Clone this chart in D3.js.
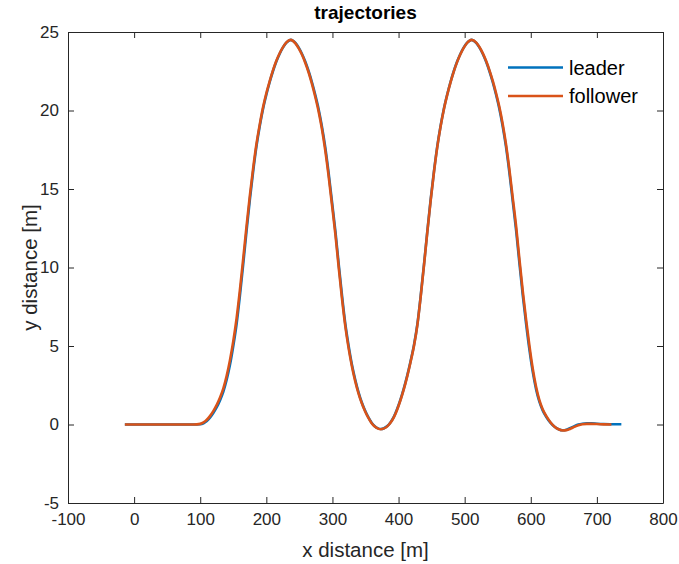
<!DOCTYPE html>
<html>
<head>
<meta charset="utf-8">
<script src="https://cdn.jsdelivr.net/npm/d3@7"></script>
<style>
  body { margin: 0; background: #fff; }
  svg { display: block; }
</style>
</head>
<body>
<div id="chart"></div>
<script>
// leader trajectory (x distance, y distance in m)
const leaderX = [-14, 0, 50, 90, 100, 105, 110, 115, 120, 125, 130, 135, 140, 145, 150, 155, 160, 165, 170, 175,
    180, 185, 190, 195, 200, 205, 210, 215, 220, 225, 230, 237,
    244, 249, 254, 259, 264, 269, 274, 279, 284, 289, 294, 299, 304.5, 309.5, 314.5, 319.5, 324.5, 329.5, 334.5,
    339.5, 344, 349, 354, 359, 364, 369, 373,
    378, 383, 388, 393, 398, 403, 408, 413, 418, 423.5, 428.5, 433.5, 438.5, 443.5, 448.5, 453.5, 458.5, 463.5,
    468.5, 473.5, 478.5, 483.5, 488.5, 493.5, 498.5, 503.5, 510.5,
    517.5, 522.5, 527.5, 532.5, 537.5, 542.5, 547.5, 552.5, 557.5, 562.5, 567.5, 572.5, 578, 583, 588, 593,
    598, 603, 608, 613, 618, 624, 630, 636, 642, 648, 654, 660, 666, 672, 678, 685, 692, 700, 710, 720, 737];
const leaderY = [0, 0, 0, 0, 0.02, 0.08, 0.22, 0.45, 0.75, 1.1, 1.55, 2.1, 2.85, 3.8, 5.0, 6.4, 8.2, 10.2, 12.3, 14.3,
    16.1, 17.7, 19.0, 20.1, 21.0, 21.8, 22.5, 23.1, 23.6, 24.0, 24.3, 24.5,
    24.3, 24.0, 23.6, 23.1, 22.5, 21.8, 21.0, 20.1, 19.0, 17.7, 16.1, 14.3, 12.3, 10.2, 8.2, 6.4, 5.0, 3.8, 2.85,
    2.05, 1.45, 0.92, 0.48, 0.13, -0.11, -0.25, -0.29,
    -0.24, -0.1, 0.15, 0.5, 1.0, 1.6, 2.3, 3.1, 4.0, 5.1, 6.4, 8.2, 10.2, 12.3, 14.3, 16.1, 17.7, 19.0,
    20.1, 21.0, 21.8, 22.5, 23.1, 23.6, 24.0, 24.3, 24.5,
    24.3, 24.0, 23.6, 23.1, 22.5, 21.8, 21.0, 20.1, 19.0, 17.7, 16.1, 14.3, 12.3, 10.2, 8.2, 6.4,
    4.75, 3.35, 2.25, 1.45, 0.9, 0.45, 0.1, -0.15, -0.3, -0.37, -0.33, -0.22, -0.1, 0.0, 0.05, 0.07, 0.07, 0.05, 0.03, 0.02, 0.02];

// follower trajectory
const followerX = [-14, 0, 50, 90, 100, 105, 110, 115, 120, 125, 130, 135, 140, 145, 150, 155, 160, 165, 170, 175,
    180, 185, 190, 195, 200, 205, 210, 215, 220, 225, 230, 237,
    244, 249, 254, 259, 264, 269, 274, 279, 284, 289, 294, 299, 304.5, 309.5, 314.5, 319.5, 324.5, 329.5, 334.5,
    339.5, 344, 349, 354, 359, 364, 369, 373,
    378, 383, 388, 393, 398, 403, 408, 413, 418, 423.5, 428.5, 433.5, 438.5, 443.5, 448.5, 453.5, 458.5, 463.5,
    468.5, 473.5, 478.5, 483.5, 488.5, 493.5, 498.5, 503.5, 510.5,
    517.5, 522.5, 527.5, 532.5, 537.5, 542.5, 547.5, 552.5, 557.5, 562.5, 567.5, 572.5, 578, 583, 588, 593,
    598, 603, 608, 613, 618, 624, 630, 636, 642, 648, 654, 660, 666, 672, 678, 685, 692, 700, 710, 722];
const followerY = [0, 0, 0, 0, 0.04, 0.13, 0.3, 0.55, 0.87, 1.25, 1.72, 2.3, 3.1, 4.1, 5.3, 6.75, 8.55, 10.55, 12.6, 14.55,
    16.3, 17.85, 19.1, 20.2, 21.1, 21.85, 22.55, 23.15, 23.63, 24.02, 24.32, 24.5,
    24.28, 23.96, 23.55, 23.03, 22.42, 21.7, 20.88, 19.96, 18.85, 17.5, 15.9, 14.1, 12.1, 10.0, 8.0, 6.25, 4.85, 3.7, 2.75,
    1.97, 1.4, 0.88, 0.45, 0.1, -0.13, -0.26, -0.3,
    -0.25, -0.12, 0.12, 0.47, 0.96, 1.56, 2.25, 3.05, 3.95, 5.05, 6.35, 8.15, 10.15, 12.25, 14.25, 16.05, 17.65, 18.96,
    20.07, 20.98, 21.78, 22.48, 23.08, 23.58, 23.99, 24.3, 24.5,
    24.32, 24.03, 23.64, 23.15, 22.56, 21.88, 21.1, 20.22, 19.14, 17.86, 16.3, 14.52, 12.55, 10.45, 8.45, 6.65,
    5.0, 3.55, 2.4, 1.55, 0.97, 0.5, 0.13, -0.14, -0.3, -0.38, -0.36, -0.27, -0.15, -0.05, 0.01, 0.04, 0.04, 0.03, 0.01, 0.0];

const xTicks = [-100, 0, 100, 200, 300, 400, 500, 600, 700, 800];
const yTicks = [-5, 0, 5, 10, 15, 20, 25];
const seriesNames = ["leader", "follower"];
const seriesColors = ["#0072BD", "#D95319"];

const width = 679, height = 564;
const plotL = 68, plotR = 663, plotT = 32, plotB = 503;
const axisColor = "#262626";
const font = "'Liberation Sans', Arial, Helvetica, sans-serif";

const svg = d3.select("#chart").append("svg")
    .attr("width", width)
    .attr("height", height);

const x = d3.scaleLinear().domain([-100, 800]).range([plotL, plotR]);
const y = d3.scaleLinear().domain([-5, 25]).range([plotB, plotT]);

// lines
const line = d3.line()
    .x(d => x(d[0]))
    .y(d => y(d[1]))
    .curve(d3.curveMonotoneX);

const series = [
    d3.zip(leaderX, leaderY),
    d3.zip(followerX, followerY)
];

series.forEach((pts, i) => {
    svg.append("path")
        .datum(pts)
        .attr("d", line)
        .attr("fill", "none")
        .attr("stroke", seriesColors[i])
        .attr("stroke-width", 2.6)
        .attr("stroke-linejoin", "round");
});

// axes (box with inward ticks)
const tickLen = 6;
const fmt = d => String(d);
svg.append("g")
    .attr("transform", `translate(0,${plotB})`)
    .call(d3.axisBottom(x).tickValues(xTicks).tickFormat(fmt).tickSizeInner(-tickLen).tickSizeOuter(0).tickPadding(10))
    .call(g => g.selectAll("text").attr("dy", "0.71em"));
svg.append("g")
    .attr("transform", `translate(0,${plotT})`)
    .call(d3.axisTop(x).tickValues(xTicks).tickSizeInner(-tickLen).tickSizeOuter(0).tickFormat(""));
svg.append("g")
    .attr("transform", `translate(${plotL},0)`)
    .call(d3.axisLeft(y).tickValues(yTicks).tickFormat(fmt).tickSizeInner(-tickLen).tickSizeOuter(0).tickPadding(9));
svg.append("g")
    .attr("transform", `translate(${plotR},0)`)
    .call(d3.axisRight(y).tickValues(yTicks).tickSizeInner(-tickLen).tickSizeOuter(0).tickFormat(""));

svg.selectAll(".domain").attr("stroke", axisColor).attr("stroke-width", 1);
svg.selectAll(".tick line").attr("stroke", axisColor).attr("stroke-width", 1);
svg.selectAll(".tick text")
    .attr("font-family", font)
    .attr("font-size", "17px")
    .attr("fill", axisColor);

// title
svg.append("text")
    .attr("x", (plotL + plotR) / 2)
    .attr("y", 19)
    .attr("text-anchor", "middle")
    .attr("font-family", font)
    .attr("font-size", "19px")
    .attr("font-weight", "bold")
    .attr("fill", "#000")
    .text("trajectories");

// axis labels
svg.append("text")
    .attr("x", (plotL + plotR) / 2)
    .attr("y", 557)
    .attr("text-anchor", "middle")
    .attr("font-family", font)
    .attr("font-size", "20.5px")
    .attr("fill", axisColor)
    .text("x distance [m]");

svg.append("text")
    .attr("transform", `translate(37,${(plotT + plotB) / 2}) rotate(-90)`)
    .attr("text-anchor", "middle")
    .attr("font-family", font)
    .attr("font-size", "20.5px")
    .attr("fill", axisColor)
    .text("y distance [m]");

// legend
const legend = svg.append("g");
seriesNames.forEach((name, i) => {
    const ly = 67.5 + i * 28.5;
    legend.append("line")
        .attr("x1", 508)
        .attr("x2", 563)
        .attr("y1", ly)
        .attr("y2", ly)
        .attr("stroke", seriesColors[i])
        .attr("stroke-width", 2.6);
    legend.append("text")
        .attr("x", 569)
        .attr("y", ly + 7)
        .attr("font-family", font)
        .attr("font-size", "20px")
        .attr("fill", "#000")
        .text(name);
});
</script>
</body>
</html>
